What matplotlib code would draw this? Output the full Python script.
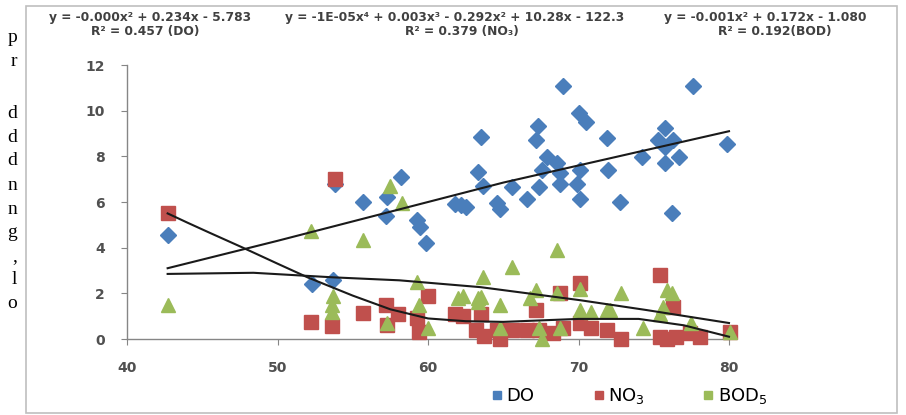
import matplotlib
matplotlib.use('Agg')
import matplotlib.pyplot as plt
from matplotlib.lines import Line2D
from matplotlib.patches import Rectangle

# --- datos ---
do_x = [42.7, 52.3, 53.7, 53.8, 55.7, 57.2, 57.3, 58.2, 59.3, 59.5, 59.9,
        61.8, 62.2, 62.5, 63.5, 63.3, 63.65, 64.6, 64.8, 65.6, 66.6, 67.3,
        67.2, 67.9, 68.6, 67.6, 67.4, 68.8, 68.8, 69.0, 69.9, 70.1, 70.1,
        70.0, 70.5, 71.9, 71.95, 72.75, 74.2, 75.75, 75.3, 76.3, 75.75,
        75.75, 76.7, 76.2, 77.6, 79.9]
do_y = [4.55, 2.4, 2.6, 6.8, 6.0, 5.4, 6.2, 7.1, 5.2, 4.9, 4.2,
        5.9, 5.85, 5.8, 8.85, 7.3, 6.7, 5.95, 5.7, 6.65, 6.15, 9.35,
        8.7, 7.95, 7.7, 7.4, 6.65, 6.8, 7.25, 11.1, 6.8, 7.4, 6.15,
        9.9, 9.5, 8.8, 7.4, 6.0, 7.95, 9.25, 8.7, 8.7, 8.4,
        7.7, 7.95, 5.5, 11.1, 8.55]

no3_x = [42.7, 52.2, 53.6, 53.8, 55.7, 57.2, 57.3, 58.0, 59.3, 59.4, 60.0,
         61.8, 62.3, 63.2, 63.5, 63.7, 64.6, 64.8, 65.6, 66.6, 67.2, 67.4,
         68.3, 68.8, 69.0, 70.1, 70.1, 70.8, 71.9, 72.8, 75.4, 75.4, 75.9,
         76.5, 76.3, 77.4, 78.1, 80.05]
no3_y = [5.5, 0.75, 0.55, 7.0, 1.15, 1.5, 0.6, 1.1, 0.9, 0.3, 1.9,
         1.1, 1.0, 0.4, 1.1, 0.15, 0.4, 0.0, 0.4, 0.4, 1.25, 0.4,
         0.25, 2.0, 0.5, 2.45, 0.7, 0.5, 0.4, 0.0, 2.8, 0.1, 0.0,
         0.1, 1.4, 0.25, 0.1, 0.3]

bod_x = [42.7, 52.2, 53.7, 53.6, 53.6, 55.7, 57.5, 58.3, 57.3, 59.3, 59.4,
         60.0, 62.0, 62.3, 63.3, 63.5, 63.3, 63.65, 64.8, 64.8, 65.6, 66.8,
         67.2, 67.4, 67.6, 68.6, 68.6, 68.8, 70.1, 70.1, 70.8, 71.9, 72.1,
         72.8, 74.3, 75.4, 75.6, 75.9, 76.2, 77.5, 80.05]
bod_y = [1.5, 4.75, 1.9, 1.5, 1.2, 4.35, 6.7, 5.95, 0.7, 2.5, 1.5,
         0.5, 1.8, 1.9, 1.8, 1.85, 1.6, 2.7, 1.5, 0.5, 3.15, 1.8,
         2.15, 0.5, 0.0, 3.9, 2.0, 0.5, 2.2, 1.25, 1.2, 1.25, 1.25,
         2.0, 0.5, 1.1, 1.4, 2.15, 2.0, 0.7, 0.3]

# lineas de tendencia
do_tx = [42.7, 50, 60, 65, 70, 80]
do_ty = [3.1, 4.3, 6.0, 6.85, 7.6, 9.1]
no3_tx = [42.7, 44, 45.5, 47.7, 50, 52, 55, 57.5, 60, 62.5, 65, 70, 74, 77, 80]
no3_ty = [5.5, 5.1, 4.65, 4.0, 3.3, 2.7, 1.9, 1.3, 0.9, 0.78, 0.75, 0.88, 0.88, 0.6, 0.1]
bod_tx = [42.7, 48.4, 53.7, 58.1, 63.5, 70.1, 74.5, 80]
bod_ty = [2.85, 2.9, 2.7, 2.57, 2.27, 1.7, 1.27, 0.7]

ecuaciones = [
    ("y = -0.000x² + 0.234x - 5.783", "R² = 0.457 (DO)", 150, 145),
    ("y = -1E-05x⁴ + 0.003x³ - 0.292x² + 10.28x - 122.3", "R² = 0.379 (NO₃)", 455, 462),
    ("y = -0.001x² + 0.172x - 1.080", "R² = 0.192(BOD)", 765, 775),
]

texto_lateral = [("p", 38), ("r", 62), ("d", 113), ("d", 137), ("d", 160),
                 ("n", 185), ("n", 209), ("g", 232), (",", 257), ("l", 280), ("o", 304)]

AZUL = '#4A7EBB'
ROJO = '#C0504D'
VERDE = '#9BBB59'

W, H = 906, 415
fig = plt.figure(figsize=(W / 100, H / 100), dpi=100)
fig.patch.set_facecolor('white')

# marco del grafico
fig.patches.append(Rectangle((26 / W, 1 - 413 / H), (897 - 26) / W, (413 - 6) / H,
                             transform=fig.transFigure, fill=False,
                             edgecolor='#BFBFBF', linewidth=1.2))

ax = fig.add_axes([127 / W, 1 - 339 / H, (729 - 127) / W, (339 - 65) / H])

ax.plot(do_x, do_y, linestyle='none', marker='D', markersize=8.5, color=AZUL,
        markeredgecolor=AZUL, zorder=3, clip_on=False)
ax.plot(no3_x, no3_y, linestyle='none', marker='s', markersize=9.5, color=ROJO,
        markeredgecolor=ROJO, zorder=4, clip_on=False)
ax.plot(bod_x, bod_y, linestyle='none', marker='^', markersize=10.5, color=VERDE,
        markeredgecolor=VERDE, zorder=5, clip_on=False)

for tx, ty in [(do_tx, do_ty), (no3_tx, no3_ty), (bod_tx, bod_ty)]:
    ax.plot(tx, ty, color='#1a1a1a', linewidth=1.5, zorder=6, clip_on=False)

ax.set_xlim(40, 80)
ax.set_ylim(0, 12)
ax.set_xticks(range(40, 81, 10))
ax.set_yticks(range(0, 13, 2))
for lado in ['top', 'right']:
    ax.spines[lado].set_visible(False)
for lado in ['left', 'bottom']:
    ax.spines[lado].set_color('#868686')
    ax.spines[lado].set_linewidth(1.0)
ax.tick_params(axis='both', direction='out', length=4, color='#868686',
               labelsize=10, labelcolor='#505050')
ax.tick_params(axis='y', pad=12)
ax.tick_params(axis='x', pad=12)
for lab in ax.get_xticklabels() + ax.get_yticklabels():
    lab.set_fontweight('bold')
    lab.set_family('DejaVu Sans')

# ecuaciones
for eq, r2, xe, xr in ecuaciones:
    fig.text(xe / W, 1 - 17 / H, eq, ha='center', va='center', fontsize=8.8,
             fontweight='bold', color='#404040', family='DejaVu Sans')
    fig.text(xr / W, 1 - 32 / H, r2, ha='center', va='center', fontsize=8.8,
             fontweight='bold', color='#404040', family='DejaVu Sans')

# leyenda
handles = [Line2D([], [], linestyle='none', marker='s', markersize=6, color=c)
           for c in (AZUL, ROJO, VERDE)]
ax.legend(handles, ['DO', 'NO$_3$', 'BOD$_5$'], loc='center',
          bbox_to_anchor=(630 / W, 1 - 396 / H), bbox_transform=fig.transFigure,
          ncol=3, frameon=False, handlelength=0.5, handletextpad=0.25,
          columnspacing=3.3, prop={'size': 13, 'family': 'DejaVu Sans'})

# texto cortado del documento a la izquierda
for letra, yy in texto_lateral:
    fig.text(17 / W, 1 - yy / H, letra, ha='right', va='center', fontsize=14,
             family='Liberation Serif', color='black')

fig.savefig('out.png', dpi=100)
